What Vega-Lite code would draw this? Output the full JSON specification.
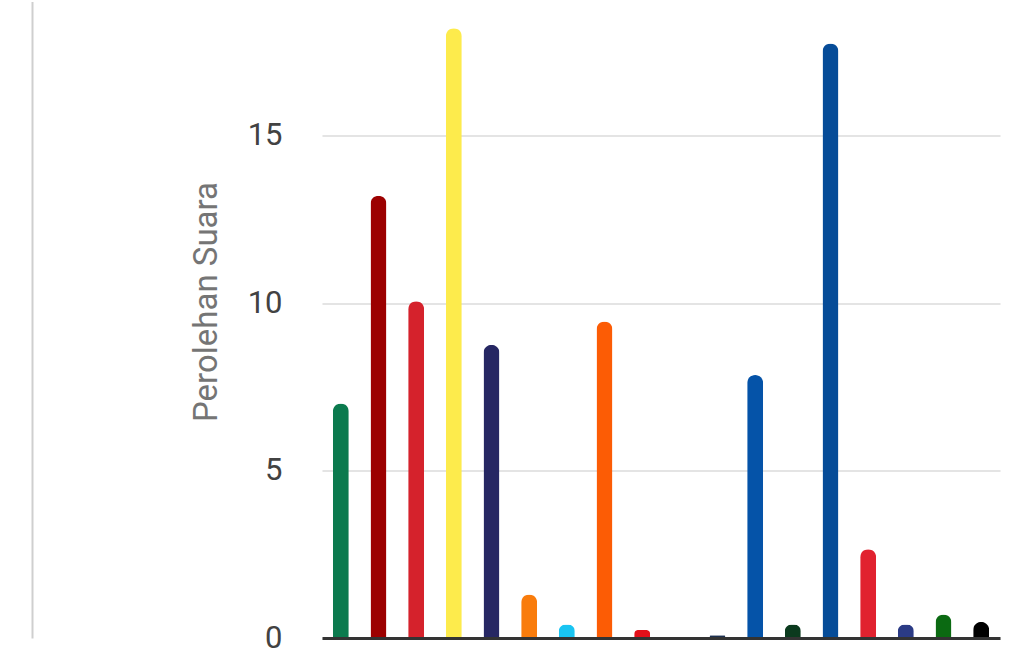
{
  "$schema": "https://vega.github.io/schema/vega-lite/v6.json",
  "autosize": "none",
  "padding": {"left": 322, "top": 1.5, "right": 24, "bottom": 17},
  "width": 678,
  "height": 636.5,
  "background": "white",
  "data": {
    "values": [
      {"partai": "PKB", "suara": 7.0},
      {"partai": "Gerindra", "suara": 13.2},
      {"partai": "PDI-P", "suara": 10.05},
      {"partai": "Golkar", "suara": 18.2},
      {"partai": "NasDem", "suara": 8.75},
      {"partai": "Partai Buruh", "suara": 1.3},
      {"partai": "Gelora", "suara": 0.4},
      {"partai": "PKS", "suara": 9.45},
      {"partai": "PKN", "suara": 0.24},
      {"partai": "Hanura", "suara": 0},
      {"partai": "Garuda", "suara": 0.08},
      {"partai": "PAN", "suara": 7.85},
      {"partai": "PBB", "suara": 0.4},
      {"partai": "Demokrat", "suara": 17.75},
      {"partai": "PSI", "suara": 2.65},
      {"partai": "Perindo", "suara": 0.4},
      {"partai": "PPP", "suara": 0.7},
      {"partai": "Ummat", "suara": 0.48}
    ]
  },
  "layer": [
    {
      "mark": {"type": "bar", "opacity": 0},
      "encoding": {
        "x": {
          "field": "partai",
          "type": "nominal",
          "sort": null,
          "axis": {"labels": false, "ticks": false, "title": null, "domainColor": "#333333", "domainWidth": 3, "zindex": 1}
        },
        "y": {
          "field": "suara",
          "type": "quantitative",
          "scale": {"domain": [0, 19]},
          "axis": {"orient": "left", "offset": 290, "labels": false, "ticks": false, "grid": false, "title": null, "domainColor": "#cfcfcf", "domainWidth": 2}
        }
      }
    },
    {
      "mark": {"type": "bar", "size": 16, "cornerRadiusTopLeft": 8, "cornerRadiusTopRight": 8},
      "encoding": {
        "x": {
          "field": "partai",
          "type": "nominal",
          "sort": null,
          "axis": {"labels": false, "ticks": false, "title": null, "domainColor": "#333333", "domainWidth": 3, "zindex": 1}
        },
        "y": {
          "field": "suara",
          "type": "quantitative",
          "scale": {"domain": [0, 19]},
          "axis": {
            "orient": "left",
            "values": [0, 5, 10, 15],
            "domain": false,
            "ticks": false,
            "grid": true,
            "gridColor": "#e4e4e4",
            "gridWidth": 2,
            "labelFontSize": 31,
            "labelColor": "#424242",
            "labelPadding": 40,
            "title": "Perolehan Suara",
            "titleFontSize": 33,
            "titleFontWeight": "normal",
            "titleColor": "#757575",
            "titlePadding": 24,
            "titleY": 300
          }
        },
        "color": {
          "field": "partai",
          "type": "nominal",
          "legend": null,
          "scale": {
            "domain": ["PKB", "Gerindra", "PDI-P", "Golkar", "NasDem", "Partai Buruh", "Gelora", "PKS", "PKN", "Hanura", "Garuda", "PAN", "PBB", "Demokrat", "PSI", "Perindo", "PPP", "Ummat"],
            "range": ["#0b7a4e", "#9c0000", "#d5222c", "#fdeb4c", "#262763", "#f97c0c", "#19c4f2", "#fc5c05", "#e3101a", "#f2a400", "#1d3050", "#0553a8", "#0b3a1e", "#064c98", "#e1222f", "#2b3b85", "#0b6a12", "#000000"]
          }
        }
      }
    }
  ],
  "resolve": {"scale": {"y": "independent"}, "axis": {"y": "independent"}},
  "config": {"font": "Roboto", "view": {"stroke": null}}
}
